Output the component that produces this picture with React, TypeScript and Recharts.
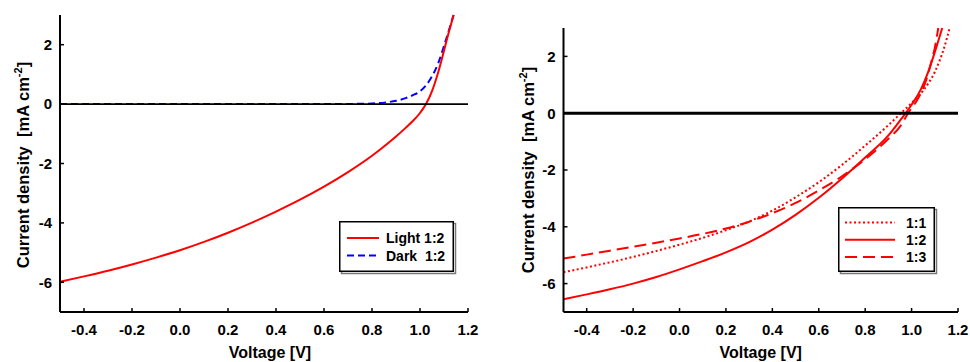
import React from "react";
import { LineChart, Line, XAxis, YAxis, ReferenceLine, Legend } from "recharts";

// J-V curves, voltage in V, current density in mA cm^-2
const V_TICKS = [-0.4, -0.2, 0, 0.2, 0.4, 0.6, 0.8, 1.0, 1.2];
const J_TICKS = [-6, -4, -2, 0, 2];

// left panel: light vs dark, 1:2 blend
const lightV = [-0.5, -0.4, -0.3, -0.2, -0.1, 0, 0.1, 0.2, 0.3, 0.4, 0.5, 0.6, 0.7, 0.8, 0.86, 0.9, 0.94, 0.97, 1.0, 1.025, 1.05, 1.075, 1.1, 1.12, 1.14];
const lightJ = [-5.98, -5.8, -5.61, -5.4, -5.17, -4.92, -4.64, -4.33, -3.99, -3.62, -3.22, -2.78, -2.29, -1.74, -1.36, -1.09, -0.8, -0.57, -0.3, 0.0, 0.44, 1.05, 1.8, 2.42, 3.0];
const darkV = [-0.5, 0, 0.5, 0.7, 0.8, 0.86, 0.9, 0.94, 0.97, 1.0, 1.04, 1.076, 1.104, 1.14];
const darkJ = [0, 0, 0, 0.005, 0.02, 0.06, 0.11, 0.2, 0.3, 0.43, 0.8, 1.38, 2.06, 3.0];

// right panel: blend ratios under light
const r11V = [-0.5, -0.4, -0.3, -0.2, -0.1, 0, 0.1, 0.2, 0.3, 0.4, 0.5, 0.6, 0.7, 0.8, 0.9, 0.95, 1.0, 1.05, 1.1, 1.14, 1.164];
const r11J = [-5.6, -5.43, -5.25, -5.06, -4.85, -4.63, -4.39, -4.12, -3.81, -3.43, -2.96, -2.43, -1.82, -1.14, -0.42, -0.03, 0.36, 0.8, 1.45, 2.3, 3.0];
const r12V = [-0.5, -0.4, -0.3, -0.2, -0.1, 0, 0.1, 0.2, 0.3, 0.4, 0.5, 0.6, 0.7, 0.8, 0.9, 0.95, 1.0, 1.04, 1.07, 1.1, 1.132];
const r12J = [-6.55, -6.38, -6.2, -6.0, -5.77, -5.5, -5.21, -4.9, -4.54, -4.1, -3.58, -2.98, -2.3, -1.56, -0.78, -0.26, 0.3, 0.84, 1.42, 2.15, 3.0];
const r13V = [-0.5, -0.4, -0.3, -0.2, -0.1, 0, 0.1, 0.2, 0.3, 0.4, 0.5, 0.6, 0.7, 0.8, 0.9, 0.95, 0.985, 1.03, 1.06, 1.085, 1.1, 1.115];
const r13J = [-5.12, -4.98, -4.84, -4.7, -4.56, -4.41, -4.25, -4.06, -3.82, -3.52, -3.16, -2.72, -2.22, -1.62, -0.9, -0.47, 0, 0.55, 1.1, 1.8, 2.3, 3.0];

const pts = (v: number[], j: number[]) => v.map((x, i) => ({ v: x, j: j[i] }));

const FONT = "'Liberation Sans', Arial, sans-serif";
const tickStyle = { fontSize: 15, fontWeight: 700, fill: "#000", fontFamily: FONT };
const RED = "#ff0000";

const yTitle = (bx: number, cy: number) => () => (
  <text
    x={bx}
    y={cy}
    transform={`rotate(-90 ${bx} ${cy})`}
    textAnchor="middle"
    fontFamily={FONT}
    fontWeight={700}
    fontSize={16.5}
    fill="#000"
    style={{ whiteSpace: "pre" }}
  >
    {"Current density  [mA cm"}
    <tspan dy={-7} fontSize={11}>-2</tspan>
    <tspan dy={7}>]</tspan>
  </text>
);

const xTitle = (dx: number) => (props: any) => {
  const vb = props.viewBox;
  return (
    <text
      x={vb.x + vb.width / 2 + dx}
      y={358}
      textAnchor="middle"
      fontFamily={FONT}
      fontWeight={700}
      fontSize={16}
      fill="#000"
    >
      Voltage [V]
    </text>
  );
};

type Item = { label: string; color: string; dash?: string };

function LegendBox({ items, w, h, x1, x2, tx, y0, dy }: { items: Item[]; w: number; h: number; x1: number; x2: number; tx: number; y0: number; dy: number }) {
  return (
    <svg width={w + 3} height={h + 3}>
      <rect x={2.5} y={2.5} width={w - 1} height={h - 1} fill="none" stroke="#777" strokeWidth={1.5} />
      <rect x={0.75} y={0.75} width={w - 1.5} height={h - 1.5} fill="#fff" stroke="#000" strokeWidth={1.5} />
      {items.map((it, i) => (
        <g key={it.label}>
          <line x1={x1} x2={x2} y1={y0 + i * dy} y2={y0 + i * dy} stroke={it.color} strokeWidth={2} strokeDasharray={it.dash} />
          <text x={tx} y={y0 + i * dy + 5} fontFamily={FONT} fontWeight={700} fontSize={14} fill="#000" style={{ whiteSpace: "pre" }}>
            {it.label}
          </text>
        </g>
      ))}
    </svg>
  );
}

const leftItems: Item[] = [
  { label: "Light 1:2", color: RED },
  { label: "Dark  1:2", color: "#0000ff", dash: "7 4" },
];
const rightItems: Item[] = [
  { label: "1:1", color: RED, dash: "2 2.5" },
  { label: "1:2", color: RED },
  { label: "1:3", color: RED, dash: "12 6" },
];

const axisLine = { stroke: "#000", strokeWidth: 2 };
const tickLine = { stroke: "#000", strokeWidth: 1.5 };

export default function App() {
  return (
    <div style={{ position: "absolute", left: 0, top: 0, width: 970, height: 362, background: "#fff" }}>
      <div style={{ position: "absolute", left: 0, top: 0 }}>
        <LineChart width={485} height={362} margin={{ top: 15, right: 17, bottom: 0, left: 0 }}>
          <XAxis
            type="number"
            dataKey="v"
            domain={[-0.5, 1.2]}
            ticks={V_TICKS}
            tickFormatter={(t: number) => t.toFixed(1)}
            tick={tickStyle}
            axisLine={axisLine}
            tickLine={tickLine}
            tickSize={-4}
            tickMargin={16}
            height={50}
            allowDuplicatedCategory={false}
            label={xTitle(6)}
          />
          <YAxis
            type="number"
            domain={[-7, 3]}
            ticks={J_TICKS}
            tick={tickStyle}
            axisLine={axisLine}
            tickLine={tickLine}
            tickSize={-4}
            tickMargin={12}
            width={60}
            label={yTitle(29, 165)}
          />
          <Line data={pts(darkV, darkJ)} dataKey="j" type="monotone" stroke="#0000ff" strokeWidth={2} strokeDasharray="7 4" dot={false} isAnimationActive={false} name="Dark  1:2" />
          <Line data={pts(lightV, lightJ)} dataKey="j" type="monotone" stroke={RED} strokeWidth={2} dot={false} isAnimationActive={false} name="Light 1:2" />
          <ReferenceLine y={0} stroke="#000" strokeWidth={1.8} />
          <Legend
            layout="vertical"
            align="center"
            verticalAlign="middle"
            wrapperStyle={{ left: 339, top: 221, width: 118, height: 54 }}
            content={() => <LegendBox items={leftItems} w={115} h={51} x1={8} x2={40} tx={47} y0={17} dy={17.5} />}
          />
        </LineChart>
      </div>
      <div style={{ position: "absolute", left: 490, top: 0 }}>
        <LineChart width={480} height={362} margin={{ top: 28, right: 12, bottom: 0, left: 0 }}>
          <XAxis
            type="number"
            dataKey="v"
            domain={[-0.5, 1.2]}
            ticks={V_TICKS}
            tickFormatter={(t: number) => t.toFixed(1)}
            tick={tickStyle}
            axisLine={axisLine}
            tickLine={tickLine}
            tickSize={-4}
            tickMargin={16}
            height={50}
            allowDuplicatedCategory={false}
            label={xTitle(0)}
          />
          <YAxis
            type="number"
            domain={[-7, 3]}
            ticks={J_TICKS}
            tick={tickStyle}
            axisLine={axisLine}
            tickLine={tickLine}
            tickSize={-4}
            tickMargin={12}
            width={73.5}
            label={yTitle(44, 170)}
          />
          <Line data={pts(r11V, r11J)} dataKey="j" type="monotone" stroke={RED} strokeWidth={2} strokeDasharray="2 2.5" dot={false} isAnimationActive={false} name="1:1" />
          <Line data={pts(r12V, r12J)} dataKey="j" type="monotone" stroke={RED} strokeWidth={2} dot={false} isAnimationActive={false} name="1:2" />
          <Line data={pts(r13V, r13J)} dataKey="j" type="monotone" stroke={RED} strokeWidth={2} strokeDasharray="12 6" dot={false} isAnimationActive={false} name="1:3" />
          <ReferenceLine y={0} stroke="#000" strokeWidth={3} />
          <Legend
            layout="vertical"
            align="center"
            verticalAlign="middle"
            wrapperStyle={{ left: 348, top: 207, width: 100, height: 68 }}
            content={() => <LegendBox items={rightItems} w={97} h={65} x1={7} x2={57} tx={68} y0={15.5} dy={17.3} />}
          />
        </LineChart>
      </div>
    </div>
  );
}
